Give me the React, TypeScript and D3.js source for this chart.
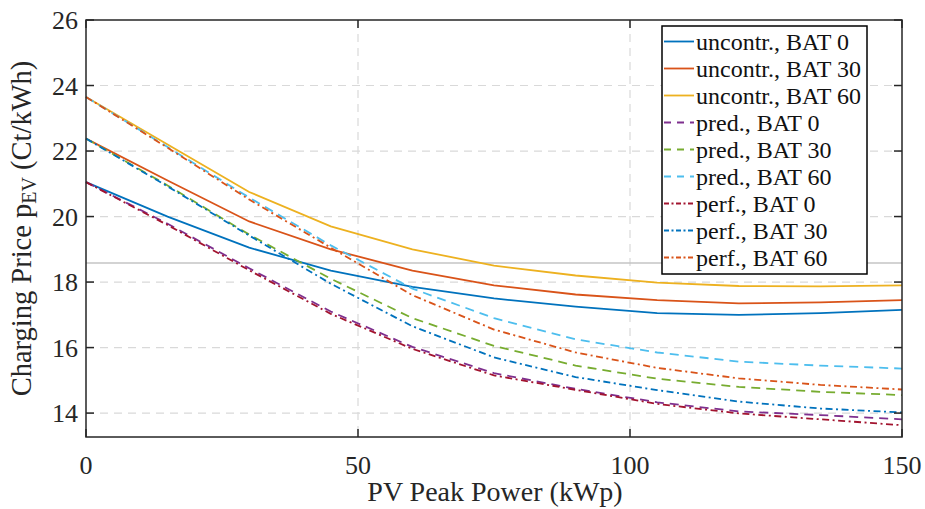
import React from "react";
import * as d3 from "d3";

const pvPeak = [0, 15, 30, 45, 60, 75, 90, 105, 120, 135, 150];
const uncontrBat0 = [21.05, 20.0, 19.05, 18.35, 17.85, 17.5, 17.25, 17.05, 17.0, 17.05, 17.15];
const uncontrBat30 = [22.38, 21.1, 19.85, 19.0, 18.35, 17.9, 17.62, 17.45, 17.35, 17.38, 17.45];
const uncontrBat60 = [23.65, 22.2, 20.75, 19.7, 19.0, 18.5, 18.2, 17.98, 17.88, 17.87, 17.9];
const predBat0 = [21.05, 19.78, 18.42, 17.1, 16.02, 15.22, 14.74, 14.33, 14.05, 13.94, 13.81];
const predBat30 = [22.38, 20.95, 19.45, 18.1, 16.9, 16.05, 15.45, 15.05, 14.8, 14.65, 14.55];
const predBat60 = [23.65, 22.12, 20.58, 19.12, 17.8, 16.9, 16.25, 15.85, 15.57, 15.45, 15.36];
const perfBat0 = [21.05, 19.74, 18.36, 17.03, 15.96, 15.15, 14.71, 14.28, 13.99, 13.81, 13.63];
const perfBat30 = [22.38, 20.92, 19.42, 17.95, 16.65, 15.7, 15.1, 14.7, 14.35, 14.14, 14.02];
const perfBat60 = [23.65, 22.1, 20.52, 19.05, 17.6, 16.55, 15.85, 15.38, 15.06, 14.86, 14.72];

const seriesNames = [
  "uncontr., BAT 0", "uncontr., BAT 30", "uncontr., BAT 60",
  "pred., BAT 0", "pred., BAT 30", "pred., BAT 60",
  "perf., BAT 0", "perf., BAT 30", "perf., BAT 60",
];
const seriesValues = [uncontrBat0, uncontrBat30, uncontrBat60, predBat0, predBat30, predBat60, perfBat0, perfBat30, perfBat60];
const seriesColors = ["#0072BD", "#D95319", "#EDB120", "#7E2F8E", "#77AC30", "#4DBEEE", "#A2142F", "#0072BD", "#D95319"];
const seriesStyles = ["solid", "solid", "solid", "dash", "dash", "dash", "dashdot", "dashdot", "dashdot"];

const xTicks = [0, 50, 100, 150];
const yTicks = [14, 16, 18, 20, 22, 24, 26];
const refLine = 18.58;
const xDomain = [0, 150];
const yDomain = [13.27, 26];

const W = 925, H = 509;
const L = 86, R = 902, T = 20, B = 437;

const dashFor = (s: string) => (s === "dash" ? "9,6" : s === "dashdot" ? "7,3.5,2,3.5" : undefined);

export default function App() {
  const x = d3.scaleLinear().domain(xDomain).range([L, R]);
  const y = d3.scaleLinear().domain(yDomain).range([B, T]);
  const line = d3.line<number>().x((_, i) => x(pvPeak[i])).y((d) => y(d));
  const font = "Liberation Serif, DejaVu Serif, Times New Roman, serif";
  const axisColor = "#262626";
  const legX = 662, legY = 26, legW = 205, legH = 248, rowH = 27;

  return (
    <svg width={W} height={H} style={{ position: "absolute", left: 0, top: 0, background: "#fff", fontFamily: font }}>
      <rect x={0} y={0} width={W} height={H} fill="#fff" />
      {xTicks.filter((t) => t > xDomain[0] && t < xDomain[1]).map((t) => (
        <line key={"gx" + t} x1={x(t)} x2={x(t)} y1={T} y2={B} stroke="#d9d9d9" strokeWidth={1.2} strokeDasharray="8,6" />
      ))}
      {yTicks.filter((t) => t < yDomain[1]).map((t) => (
        <line key={"gy" + t} x1={L} x2={R} y1={y(t)} y2={y(t)} stroke="#d9d9d9" strokeWidth={1.2} strokeDasharray="8,6" />
      ))}
      <line x1={L} x2={R} y1={y(refLine)} y2={y(refLine)} stroke="#c4c4c4" strokeWidth={1.5} />
      {seriesValues.map((vals, i) => (
        <path key={"s" + i} d={line(vals) || ""} fill="none" stroke={seriesColors[i]} strokeWidth={1.8}
          strokeDasharray={dashFor(seriesStyles[i])} />
      ))}
      <rect x={L} y={T} width={R - L} height={B - T} fill="none" stroke={axisColor} strokeWidth={1.5} />
      {xTicks.map((t) => (
        <g key={"xt" + t}>
          <line x1={x(t)} x2={x(t)} y1={B} y2={B - 8} stroke={axisColor} strokeWidth={1.5} />
          <line x1={x(t)} x2={x(t)} y1={T} y2={T + 8} stroke={axisColor} strokeWidth={1.5} />
          <text x={x(t)} y={474} textAnchor="middle" fontSize={26} fill="#262626">{t}</text>
        </g>
      ))}
      {yTicks.map((t) => (
        <g key={"yt" + t}>
          <line x1={L} x2={L + 8} y1={y(t)} y2={y(t)} stroke={axisColor} strokeWidth={1.5} />
          <line x1={R} x2={R - 8} y1={y(t)} y2={y(t)} stroke={axisColor} strokeWidth={1.5} />
          <text x={78} y={y(t)} dy="0.35em" textAnchor="end" fontSize={26} fill="#262626">{t}</text>
        </g>
      ))}
      <text x={(L + R) / 2 + 1} y={501} textAnchor="middle" fontSize={28} fill="#262626">PV Peak Power (kWp)</text>
      <text transform={`translate(31,${(T + B) / 2}) rotate(-90)`} textAnchor="middle" fontSize={28.5} fill="#262626">
        Charging Price p<tspan baselineShift="-25%" fontSize={20}>EV</tspan> (Ct/kWh)
      </text>
      <rect x={legX} y={legY} width={legW} height={legH} fill="#fff" stroke="#000" strokeWidth={1.5} />
      {seriesNames.map((n, i) => {
        const cy = legY + 15.5 + i * rowH;
        return (
          <g key={"lg" + i}>
            <line x1={legX + 2} x2={legX + 32} y1={cy} y2={cy} stroke={seriesColors[i]} strokeWidth={1.8}
              strokeDasharray={seriesStyles[i] === "dash" ? "7,6" : seriesStyles[i] === "dashdot" ? "5,2.5,2,2.5" : undefined} />
            <text x={legX + 34} y={cy} dy="0.35em" fontSize={24} fill="#111">{n}</text>
          </g>
        );
      })}
    </svg>
  );
}
